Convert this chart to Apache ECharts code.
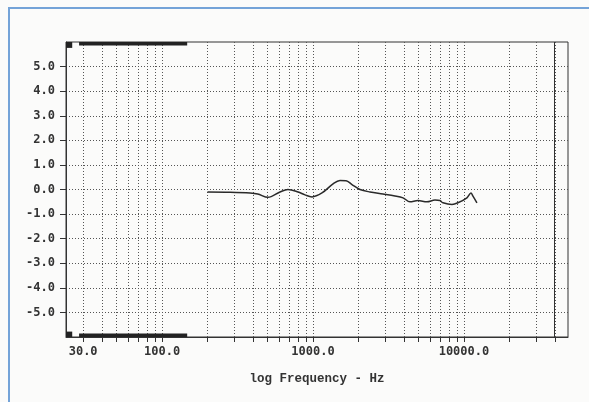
<!DOCTYPE html>
<html>
<head>
<meta charset="utf-8">
<script src="https://cdn.jsdelivr.net/npm/echarts@6/dist/echarts.min.js"></script>
<style>
  html, body { margin: 0; padding: 0; background: #fbfbfa; }
  #chart { width: 589px; height: 402px; }
</style>
</head>
<body>
<div id="chart"></div>
<script>
var freqHz = [200, 282, 383, 430, 503, 604, 682, 796, 885, 985, 1147, 1357, 1509, 1655, 1812, 2047,
  2384, 2909, 3492, 3948, 4389, 4955, 5688, 6428, 6934, 7261, 8333, 9126, 10465, 11120, 11470, 12190];
var levelDb = [-0.1, -0.11, -0.14, -0.18, -0.32, -0.1, 0.0, -0.1, -0.22, -0.3, -0.14, 0.23, 0.37, 0.36, 0.2, 0.0,
  -0.1, -0.18, -0.26, -0.34, -0.5, -0.45, -0.5, -0.43, -0.45, -0.54, -0.61, -0.54, -0.34, -0.14, -0.27, -0.54];

// axis range and ticks
var freqMin = 23.1, freqMax = 48900;
var freqTicks = [30, 40, 50, 60, 70, 80, 90, 100, 200, 300, 400, 500, 600, 700, 800, 900,
  1000, 2000, 3000, 4000, 5000, 6000, 7000, 8000, 9000, 10000, 20000, 30000, 40000];
var freqLabels = [30, 100, 1000, 10000];
var dbTicks = [-5, -4, -3, -2, -1, 0, 1, 2, 3, 4, 5];
var dbMin = -6, dbMax = 6;

// clipped (out of range) traces along top and bottom edges
var clipBandHz = [28.2, 146.7];
var clipBlockHz = [23.1, 25.4];
var edgeHz = 40000;

var lg = function(v) { return Math.log10(v); };

var chart = echarts.init(document.getElementById('chart'));

var curve = freqHz.map(function(f, i) { return [lg(f), levelDb[i]]; });

var ink = '#333';
var dotted = { color: '#555', width: 1, type: [1, 2] };

var options = {
  animation: false,
  backgroundColor: '#fbfbfa',
  grid: { left: 66, right: 21, top: 42, bottom: 65, show: true, borderColor: ink, borderWidth: 1, backgroundColor: 'transparent' },
  graphic: [{
    type: 'rect',
    shape: { x: 9, y: 8, width: 620, height: 430 },
    style: { fill: 'none', stroke: '#74a3d8', lineWidth: 2 },
    silent: true
  }],
  xAxis: {
    type: 'value',
    min: lg(freqMin),
    max: lg(freqMax),
    name: 'log Frequency - Hz',
    nameLocation: 'middle',
    nameGap: 35,
    nameTextStyle: { fontFamily: 'Liberation Mono', fontWeight: 'bold', fontSize: 12.5, color: ink },
    axisLine: { show: true, onZero: false, lineStyle: { color: ink } },
    axisTick: { show: true, length: 5, lineStyle: { color: ink }, customValues: freqTicks.map(lg) },
    axisLabel: {
      customValues: freqLabels.map(lg),
      margin: 9,
      fontFamily: 'DejaVu Sans Mono', fontWeight: 'bold', fontSize: 12, color: ink,
      formatter: function(v) { return (Math.round(Math.pow(10, v) * 10) / 10).toFixed(1); }
    },
    splitLine: { show: true, lineStyle: dotted }
  },
  yAxis: {
    type: 'value',
    min: dbMin,
    max: dbMax,
    axisLine: { show: true, onZero: false, lineStyle: { color: ink } },
    axisTick: { show: true, length: 6, lineStyle: { color: ink }, customValues: dbTicks },
    axisLabel: {
      customValues: dbTicks,
      margin: 11,
      fontFamily: 'DejaVu Sans Mono', fontWeight: 'bold', fontSize: 12, color: ink,
      formatter: function(v) { return v.toFixed(1); }
    },
    splitLine: { show: true, lineStyle: dotted }
  },
  series: [{
    type: 'line',
    data: curve,
    smooth: 0.35,
    symbol: 'none',
    lineStyle: { color: '#2a2a2a', width: 1.5 },
    markLine: {
      silent: true,
      symbol: 'none',
      label: { show: false },
      lineStyle: { color: ink, width: 1, type: 'solid' },
      data: [{ xAxis: lg(edgeHz) }]
    },
    markArea: {
      silent: true,
      itemStyle: { color: '#222' },
      label: { show: false },
      data: [
        [{ xAxis: lg(clipBandHz[0]), yAxis: 5.86 }, { xAxis: lg(clipBandHz[1]), yAxis: dbMax }],
        [{ xAxis: lg(clipBandHz[0]), yAxis: dbMin }, { xAxis: lg(clipBandHz[1]), yAxis: -5.86 }],
        [{ xAxis: lg(clipBlockHz[0]), yAxis: 5.76 }, { xAxis: lg(clipBlockHz[1]), yAxis: dbMax }],
        [{ xAxis: lg(clipBlockHz[0]), yAxis: dbMin }, { xAxis: lg(clipBlockHz[1]), yAxis: -5.78 }]
      ]
    }
  }]
};

chart.setOption(options);
</script>
</body>
</html>
